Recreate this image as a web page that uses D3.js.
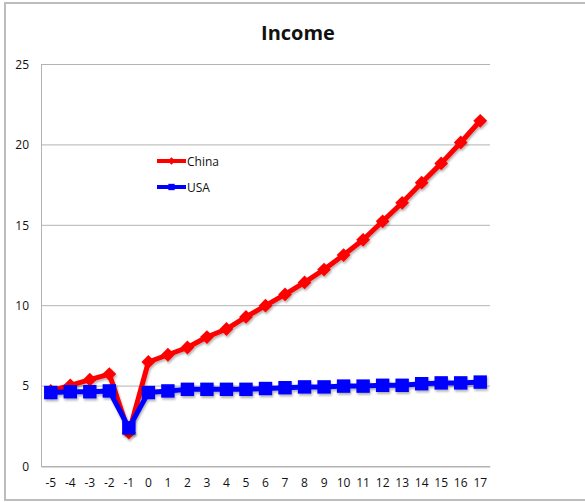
<!DOCTYPE html>
<html>
<head>
<meta charset="utf-8">
<script src="https://cdn.jsdelivr.net/npm/d3@7"></script>
<style>
  body { margin: 0; background: #fff; }
  text { font-family: "Open Sans", "DejaVu Sans", sans-serif; fill: #111; }
</style>
</head>
<body>
<div id="js_chart"></div>
<script>
// Data
const years = [-5, -4, -3, -2, -1, 0, 1, 2, 3, 4, 5, 6, 7, 8, 9, 10, 11, 12, 13, 14, 15, 16, 17];
const china = [4.7, 5.05, 5.4, 5.75, 2.1, 6.5, 6.95, 7.4, 8.05, 8.55, 9.3, 10.0, 10.7, 11.45, 12.25, 13.15, 14.1, 15.25, 16.4, 17.65, 18.85, 20.15, 21.5];
const usa = [4.6, 4.65, 4.65, 4.7, 2.4, 4.6, 4.7, 4.8, 4.8, 4.8, 4.8, 4.85, 4.9, 4.95, 4.95, 5.0, 5.0, 5.05, 5.05, 5.15, 5.2, 5.2, 5.25];
const yTicks = [0, 5, 10, 15, 20, 25];

const W = 585, H = 502;
const margin = {top: 64.5, right: 95, bottom: 35.5, left: 41};
const width = W - margin.left - margin.right,
      height = H - margin.top - margin.bottom;

const svg = d3.select("#js_chart").append("svg")
    .attr("width", W).attr("height", H);

// outer frame
svg.append("rect")
    .attr("x", 5).attr("y", 3)
    .attr("width", W + 10).attr("height", 497)
    .attr("fill", "none").attr("stroke", "#bdbdbd").attr("stroke-width", 2);

// shadow
const defs = svg.append("defs");
const f = defs.append("filter").attr("id", "shadow")
    .attr("x", "-10%").attr("y", "-10%").attr("width", "120%").attr("height", "130%");
f.append("feDropShadow").attr("dx", 1).attr("dy", 2).attr("stdDeviation", 1.2)
    .attr("flood-color", "#000").attr("flood-opacity", 0.3);

svg.append("text")
    .attr("x", 298).attr("y", 40)
    .attr("text-anchor", "middle")
    .attr("font-size", 20).attr("font-weight", "bold")
    .text("Income");

const g = svg.append("g").attr("transform", "translate(" + margin.left + "," + margin.top + ")");

const x = d3.scaleBand().domain(years).range([0, width]);
const y = d3.scaleLinear().domain([0, 25]).range([height, 0]);

// grid lines
g.selectAll(".grid").data(yTicks).enter().append("line")
    .attr("x1", 0).attr("x2", width)
    .attr("y1", d => y(d)).attr("y2", d => y(d))
    .attr("stroke", "#b3b3b3").attr("stroke-width", 1);

// axes
const yAxis = g.append("g").call(d3.axisLeft(y).tickValues(yTicks).tickSize(0).tickPadding(12));
yAxis.select(".domain").attr("stroke", "#b3b3b3");
yAxis.selectAll("text").attr("font-size", 12);

const xAxis = g.append("g").attr("transform", "translate(0," + height + ")")
    .call(d3.axisBottom(x).tickSize(0).tickPadding(12));
xAxis.select(".domain").attr("stroke", "#b3b3b3");
xAxis.selectAll("text").attr("font-size", 12);

const cx = d => x(d) + x.bandwidth() / 2;

// diamond = square turned 45deg
function drawSeries(values, color, rot, size) {
    const data = years.map((yr, i) => ({yr: yr, v: values[i]}));
    const s = g.append("g").attr("filter", "url(#shadow)");
    s.append("path").datum(data)
        .attr("fill", "none").attr("stroke", color).attr("stroke-width", 5)
        .attr("stroke-linejoin", "round")
        .attr("d", d3.line().x(d => cx(d.yr)).y(d => y(d.v)));
    s.selectAll("path.m").data(data).enter().append("path")
        .attr("class", "m")
        .attr("transform", d => "translate(" + cx(d.yr) + "," + y(d.v) + ") rotate(" + rot + ")")
        .attr("d", d3.symbol().type(d3.symbolSquare).size(size))
        .attr("fill", color);
}

drawSeries(china, "#ff0000", 45, 95);
drawSeries(usa, "#0000ff", 0, 180);

// legend
const legend = [{name: "China", color: "#ff0000", rot: 45, size: 30}, {name: "USA", color: "#0000ff", rot: 0, size: 40}];
const lg = svg.append("g").attr("transform", "translate(157,161)");
legend.forEach(function (l, i) {
    const row = lg.append("g").attr("transform", "translate(0," + i * 26 + ")");
    row.append("line").attr("x1", 0).attr("x2", 29).attr("y1", 0).attr("y2", 0)
        .attr("stroke", l.color).attr("stroke-width", 4);
    row.append("path").attr("transform", "translate(14.5,0) rotate(" + l.rot + ")")
        .attr("d", d3.symbol().type(d3.symbolSquare).size(l.size)).attr("fill", l.color);
    row.append("text").attr("x", 30).attr("y", 4.5).attr("font-size", 12).text(l.name);
});
</script>
</body>
</html>
